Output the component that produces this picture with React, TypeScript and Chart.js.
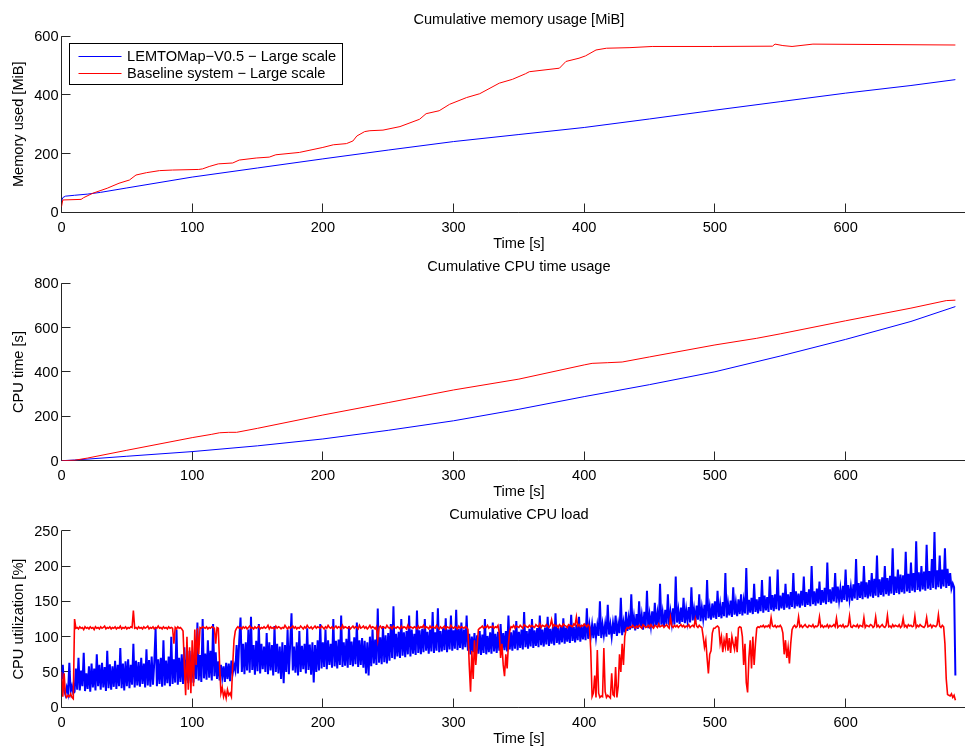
import React, { useEffect, useRef } from "react";
import { Chart, registerables } from "chart.js";

Chart.register(...registerables);

// ---------------- data ----------------
const LABEL_BLUE = "LEMTOMap\u2212V0.5 \u2212 Large scale";
const LABEL_RED = "Baseline system \u2212 Large scale";

const xTickValues = [0, 100, 200, 300, 400, 500, 600];
const X_MAX = 700;

// Cumulative memory usage [MiB]
const memBlueT = [0, 1, 3, 10, 20, 30, 50, 100, 150, 200, 250, 300, 350, 400, 450, 500, 550, 600, 650, 684];
const memBlueV = [38, 50, 55, 58, 62, 68, 83, 120, 151, 182, 212, 241, 265, 289, 318, 348, 377, 406, 432, 452];
const memRedT = [0, 1, 15, 17, 24, 35, 44, 52, 57, 65, 75, 85, 105, 108, 113, 120, 131, 136, 149, 159, 164, 182, 200, 208, 218, 223, 226, 232, 236, 246, 259, 274, 279, 289, 297, 310, 320, 335, 345, 355, 358, 381, 386, 396, 401, 409, 417, 435, 452, 498, 544, 546, 552, 559, 575, 684];
const memRedV = [19, 42, 44, 50, 65, 82, 99, 110, 127, 135, 142, 144, 146, 148, 156, 165, 168, 178, 185, 188, 196, 204, 221, 230, 234, 243, 260, 275, 278, 280, 292, 317, 336, 346, 368, 391, 404, 440, 453, 472, 479, 491, 514, 525, 533, 553, 559, 561, 565, 565, 566, 573, 568, 565, 573, 570];
const memYTicks = [0, 200, 400, 600];

// Cumulative CPU time usage [s]
const cpuBlueT = [0, 10, 50, 100, 150, 200, 250, 300, 350, 400, 450, 500, 550, 600, 650, 684];
const cpuBlueV = [0, 3, 20, 41, 67, 98, 137, 180, 232, 289, 343, 401, 472, 547, 628, 695];
const cpuRedT = [0, 10, 20, 50, 100, 115, 121, 128, 134, 150, 200, 250, 300, 350, 400, 406, 418, 429, 450, 500, 532, 550, 600, 650, 677, 684];
const cpuRedV = [0, 2, 12, 47, 104, 119, 126, 128, 128, 146, 206, 262, 319, 368, 432, 439, 442, 445, 468, 522, 552, 572, 631, 688, 722, 724];
const cpuYTicks = [0, 200, 400, 600, 800];

// Cumulative CPU load [%], one sample per second starting at t = 0 s
const LOAD_T0 = 0;
const LOAD_DT = 1;
const loadBlue = [
  40, 60, 25, 18, 28, 20, 63, 22, 30, 20,
  22, 55, 25, 70, 24, 52, 30, 77, 23, 48,
  26, 58, 22, 62, 28, 55, 24, 75, 30, 60,
  25, 63, 28, 57, 23, 80, 27, 61, 25, 58,
  29, 66, 26, 60, 30, 84, 27, 62, 24, 65,
  30, 68, 27, 60, 32, 90, 28, 66, 31, 64,
  29, 70, 33, 62, 28, 82, 31, 67, 29, 72,
  32, 64, 112, 30, 68, 33, 70, 29, 95, 31,
  66, 34, 72, 30, 100, 33, 68, 35, 110, 32,
  70, 36, 75, 33, 85, 38, 68, 34, 80, 37,
  72, 35, 78, 40, 120, 38, 74, 36, 125, 41,
  76, 39, 95, 42, 80, 38, 118, 44, 78, 40,
  65, 38, 60, 42, 58, 36, 63, 40, 62, 37,
  66, 48, 60, 52, 88, 48, 95, 127, 50, 90,
  47, 92, 52, 110, 49, 128, 53, 88, 46, 94,
  51, 118, 48, 90, 54, 86, 50, 105, 47, 92,
  52, 88, 45, 115, 50, 90, 48, 86, 40, 92,
  34, 88, 50, 110, 47, 90, 133, 52, 86, 49,
  92, 45, 108, 50, 87, 54, 90, 48, 112, 53,
  89, 46, 92, 35, 88, 50, 95, 52, 118, 55,
  92, 57, 110, 54, 95, 60, 90, 56, 125, 58,
  94, 55, 96, 60, 130, 57, 92, 59, 97, 56,
  115, 60, 93, 58, 99, 61, 120, 57, 95, 60,
  98, 56, 94, 48, 92, 45, 100, 58, 110, 62,
  96, 60, 140, 63, 99, 61, 115, 64, 102, 62,
  105, 66, 118, 70, 143, 68, 104, 72, 107, 70,
  125, 73, 106, 71, 108, 75, 130, 72, 110, 76,
  104, 74, 137, 77, 109, 75, 111, 78, 125, 80,
  107, 76, 110, 79, 135, 77, 106, 80, 140, 78,
  108, 79, 112, 81, 126, 78, 110, 82, 130, 80,
  109, 83, 138, 81, 111, 84, 120, 82, 110, 85,
  130, 80, 104, 75, 100, 78, 105, 73, 102, 76,
  108, 74, 103, 77, 125, 75, 101, 78, 106, 76,
  120, 79, 104, 77, 107, 80, 118, 78, 105, 81,
  108, 79, 130, 82, 106, 80, 109, 83, 122, 81,
  107, 84, 110, 82, 135, 85, 108, 83, 111, 86,
  125, 84, 109, 87, 112, 85, 130, 88, 110, 86,
  113, 89, 128, 87, 111, 90, 114, 88, 133, 91,
  112, 89, 115, 92, 126, 90, 113, 93, 116, 91,
  131, 94, 114, 92, 117, 95, 128, 93, 115, 96,
  118, 95, 140, 97, 116, 100, 117, 98, 119, 99,
  116, 101, 150, 98, 117, 102, 118, 100, 145, 103,
  117, 100, 119, 104, 130, 101, 118, 105, 155, 102,
  120, 106, 135, 108, 126, 110, 160, 112, 128, 109,
  132, 111, 150, 113, 130, 110, 135, 114, 165, 112,
  131, 115, 136, 113, 148, 116, 133, 114, 175, 117,
  134, 115, 138, 118, 160, 116, 135, 119, 140, 117,
  185, 120, 137, 118, 141, 121, 155, 119, 138, 122,
  142, 120, 170, 123, 139, 121, 144, 124, 160, 122,
  141, 125, 145, 123, 180, 126, 142, 124, 147, 127,
  150, 125, 165, 128, 145, 126, 149, 129, 190, 127,
  147, 130, 151, 128, 170, 131, 148, 129, 153, 132,
  160, 130, 150, 133, 197, 131, 152, 134, 155, 132,
  175, 135, 153, 133, 156, 136, 180, 134, 158, 137,
  156, 135, 185, 138, 159, 136, 160, 139, 195, 137,
  158, 140, 162, 138, 175, 141, 160, 139, 163, 142,
  190, 140, 164, 143, 161, 141, 165, 144, 185, 142,
  163, 145, 167, 143, 200, 146, 164, 144, 168, 147,
  178, 145, 166, 148, 169, 146, 205, 149, 167, 147,
  170, 150, 190, 148, 171, 151, 168, 149, 172, 152,
  195, 150, 173, 153, 170, 151, 174, 154, 210, 152,
  176, 155, 178, 153, 200, 156, 177, 154, 180, 157,
  190, 155, 182, 158, 215, 156, 181, 159, 184, 157,
  200, 160, 183, 158, 186, 161, 225, 159, 185, 162,
  195, 160, 188, 163, 187, 161, 220, 164, 189, 162,
  205, 165, 190, 163, 235, 166, 191, 164, 200, 167,
  192, 165, 230, 168, 193, 166, 210, 169, 248, 167,
  194, 170, 215, 168, 195, 171, 225, 169, 196, 172,
  190, 168, 175, 170, 45,
];
const loadRed = [
  50, 15, 48, 18, 14, 17, 15, 19, 14, 12,
  125, 112, 113, 111, 114, 112, 113, 110, 114, 112,
  113, 111, 114, 112, 113, 110, 114, 112, 113, 111,
  114, 112, 113, 115, 111, 113, 112, 114, 111, 113,
  112, 114, 111, 113, 112, 115, 111, 113, 112, 114,
  111, 113, 112, 114, 113, 137, 112, 113, 111, 114,
  112, 113, 111, 114, 112, 113, 115, 111, 113, 112,
  114, 111, 113, 112, 115, 112, 113, 111, 114, 112,
  113, 111, 114, 112, 113, 112, 90, 113, 111, 114,
  112, 113, 111, 108, 60, 17, 100, 25, 85, 20,
  95, 30, 110, 60, 112, 75, 113, 112, 114, 113,
  112, 114, 111, 113, 112, 114, 113, 112, 90, 113,
  112, 60, 20, 28, 15, 22, 13, 25, 17, 20,
  15, 60, 95, 108, 112, 114, 112, 113, 111, 114,
  112, 114, 111, 113, 115, 112, 113, 111, 114, 112,
  113, 115, 111, 113, 112, 114, 112, 113, 116, 111,
  114, 112, 113, 111, 115, 112, 114, 113, 111, 113,
  112, 116, 113, 111, 114, 112, 113, 115, 112, 114,
  111, 113, 112, 115, 113, 111, 114, 112, 116, 113,
  112, 114, 111, 113, 115, 112, 114, 113, 112, 115,
  113, 111, 114, 112, 116, 113, 112, 114, 111, 113,
  115, 112, 114, 113, 111, 116, 112, 114, 113, 112,
  114, 111, 113, 115, 112, 114, 113, 111, 116, 112,
  113, 115, 112, 114, 111, 113, 116, 112, 114, 113,
  111, 114, 96, 113, 115, 112, 114, 113, 112, 116,
  113, 112, 114, 111, 115, 113, 112, 114, 113, 111,
  115, 112, 114, 113, 111, 116, 112, 114, 113, 112,
  114, 113, 111, 115, 112, 114, 113, 116, 112, 114,
  113, 111, 115, 112, 114, 113, 112, 116, 113, 111,
  114, 112, 113, 115, 111, 114, 113, 112, 116, 113,
  112, 114, 113, 111, 115, 112, 114, 113, 112, 114,
  113, 110, 60, 22, 80, 40, 95, 60, 85, 110,
  112, 113, 115, 112, 114, 113, 116, 112, 114, 113,
  115, 112, 114, 113, 116, 105, 70, 90, 60, 44,
  75, 55, 90, 108, 114, 113, 116, 112, 115, 114,
  113, 116, 114, 112, 117, 115, 114, 113, 116, 114,
  116, 114, 113, 117, 115, 114, 118, 113, 116, 115,
  114, 117, 115, 113, 116, 124, 114, 117, 115, 116,
  113, 117, 115, 114, 118, 116, 115, 113, 117, 116,
  115, 114, 118, 116, 128, 115, 117, 114, 116, 115,
  118, 116, 114, 117, 115, 80, 15, 20, 45, 14,
  81, 20, 14, 16, 15, 84, 22, 14, 17, 15,
  13, 48, 18, 16, 57, 14, 30, 75, 50, 90,
  60, 100, 110, 113, 112, 114, 113, 116, 114, 112,
  115, 113, 116, 114, 112, 117, 115, 113, 114, 116,
  113, 117, 114, 112, 116, 115, 113, 118, 114, 115,
  116, 113, 115, 117, 114, 112, 127, 115, 113, 116,
  114, 116, 113, 115, 117, 114, 116, 113, 115, 114,
  117, 113, 115, 116, 114, 125, 115, 113, 116, 114,
  113, 100, 85, 95, 70, 48, 75, 80, 105, 112,
  112, 114, 115, 113, 90, 100, 78, 95, 85, 105,
  80, 98, 77, 100, 90, 82, 100, 78, 112, 114,
  113, 100, 60, 90, 35, 21, 70, 95, 55, 100,
  60, 90, 112, 114, 113, 115, 114, 116, 113, 115,
  114, 116, 113, 127, 115, 114, 116, 113, 115, 114,
  116, 113, 105, 75, 95, 70, 85, 62, 90, 110,
  114, 116, 113, 115, 128, 114, 116, 113, 115, 117,
  114, 113, 116, 115, 114, 117, 113, 115, 114, 116,
  128, 114, 116, 113, 115, 114, 117, 113, 116, 114,
  115, 117, 114, 126, 113, 115, 116, 114, 117, 113,
  115, 114, 116, 129, 114, 113, 116, 115, 114, 117,
  113, 116, 115, 114, 127, 113, 116, 115, 114, 117,
  116, 113, 115, 128, 114, 116, 113, 115, 117, 114,
  113, 116, 130, 114, 115, 113, 117, 114, 116, 115,
  114, 117, 113, 115, 126, 114, 116, 113, 117, 115,
  116, 114, 115, 129, 113, 116, 114, 117, 115, 114,
  113, 116, 127, 114, 115, 117, 113, 116, 115, 114,
  117, 131, 115, 113, 116, 114, 90, 40, 18, 17,
  16, 19, 14, 17, 10,
];
const loadYTicks = [0, 50, 100, 150, 200, 250];

// ---------------- styling ----------------
const BLUE = "#0000ff";
const RED = "#ff0000";
const TEXT = "#000000";
const AXIS = "#262626";
const FONT_FAMILY = '"Liberation Sans", Arial, Helvetica, sans-serif';
const FONT_SIZE = 14.6;
const LH = FONT_SIZE * 1.2;
const CANVAS_W = 980;
const CANVAS_H = 255;
const Y_AXIS_W = 61.5;
const RIGHT_PAD = 3.7;
const TITLE_GAP = 16;
const XTICK_GAP = 15.2;
const XLABEL_GAP = 31.5;
const YLABEL_X = 18.5;
const TICK_LEN = 9;

const font = { family: FONT_FAMILY, size: FONT_SIZE, weight: "normal" as const };

const toXY = (ts: number[], vs: number[]) => vs.map((v, i) => ({ x: ts[i], y: v }));
const sampled = (vs: number[]) => vs.map((v, i) => ({ x: LOAD_T0 + i * LOAD_DT, y: v }));

const matlabAxes = {
  id: "matlabAxes",
  beforeDatasetsDraw(chart: any) {
    const { ctx, chartArea, scales } = chart;
    const L = Math.floor(chartArea.left) + 0.5;
    const B = Math.floor(chartArea.bottom) + 0.5;
    ctx.save();
    ctx.strokeStyle = AXIS;
    ctx.lineWidth = 1;
    ctx.beginPath();
    ctx.moveTo(L, chartArea.top);
    ctx.lineTo(L, B);
    ctx.lineTo(chartArea.right, B);
    for (const t of scales.x.ticks) {
      const px = Math.floor(scales.x.getPixelForValue(t.value)) + 0.5;
      ctx.moveTo(px, B);
      ctx.lineTo(px, B - TICK_LEN);
    }
    for (const t of scales.y.ticks) {
      const py = Math.floor(scales.y.getPixelForValue(t.value)) + 0.5;
      ctx.moveTo(L, py);
      ctx.lineTo(L + TICK_LEN, py);
    }
    ctx.stroke();
    ctx.restore();
  },
};

const insetLegend = {
  id: "insetLegend",
  afterDatasetsDraw(chart: any, _args: any, opts: any) {
    if (!opts || !opts.show) return;
    const { ctx, chartArea } = chart;
    const x0 = Math.floor(chartArea.left + opts.offsetX) + 0.5;
    const y0 = Math.floor(chartArea.top + opts.offsetY) + 0.5;
    ctx.save();
    ctx.fillStyle = "#ffffff";
    ctx.fillRect(x0, y0, opts.width, opts.height);
    ctx.strokeStyle = "#000000";
    ctx.lineWidth = 1;
    ctx.strokeRect(x0, y0, opts.width, opts.height);
    ctx.font = `${FONT_SIZE}px ${FONT_FAMILY}`;
    ctx.textBaseline = "middle";
    ctx.textAlign = "left";
    chart.data.datasets.forEach((ds: any, i: number) => {
      const ry = Math.round(y0 + opts.firstRow + i * opts.rowGap) + 0.5;
      ctx.strokeStyle = ds.borderColor;
      ctx.lineWidth = 1;
      ctx.beginPath();
      ctx.moveTo(x0 + opts.lineStart, ry);
      ctx.lineTo(x0 + opts.lineEnd, ry);
      ctx.stroke();
      ctx.fillStyle = TEXT;
      ctx.fillText(ds.label, x0 + opts.textStart, ry);
    });
    ctx.restore();
  },
};

type Panel = {
  top: number;
  plotTop: number;
  plotBottom: number;
  title: string;
  yLabel: string;
  yMax: number;
  yTicks: number[];
  blue: { x: number; y: number }[];
  red: { x: number; y: number }[];
  blueWidth: number;
  redWidth: number;
  legend: boolean;
};

const panels: Panel[] = [
  {
    top: 0, plotTop: 36.2, plotBottom: 212.3,
    title: "Cumulative memory usage [MiB]", yLabel: "Memory used [MiB]",
    yMax: 600, yTicks: memYTicks,
    blue: toXY(memBlueT, memBlueV), red: toXY(memRedT, memRedV),
    blueWidth: 1, redWidth: 1, legend: true,
  },
  {
    top: 247, plotTop: 36.3, plotBottom: 213.7,
    title: "Cumulative CPU time usage", yLabel: "CPU time [s]",
    yMax: 800, yTicks: cpuYTicks,
    blue: toXY(cpuBlueT, cpuBlueV), red: toXY(cpuRedT, cpuRedV),
    blueWidth: 1, redWidth: 1, legend: false,
  },
  {
    top: 494, plotTop: 36.7, plotBottom: 213.3,
    title: "Cumulative CPU load", yLabel: "CPU utilization [%]",
    yMax: 250, yTicks: loadYTicks,
    blue: sampled(loadBlue), red: sampled(loadRed),
    blueWidth: 2, redWidth: 1.6, legend: false,
  },
];

function makeConfig(p: Panel): any {
  return {
    type: "line",
    data: {
      datasets: [
        { label: LABEL_BLUE, data: p.blue, borderColor: BLUE, borderWidth: p.blueWidth, pointRadius: 0, tension: 0, fill: false, order: 1, borderJoinStyle: "miter" },
        { label: LABEL_RED, data: p.red, borderColor: RED, borderWidth: p.redWidth, pointRadius: 0, tension: 0, fill: false, order: 0 },
      ],
    },
    options: {
      responsive: false,
      animation: false,
      devicePixelRatio: 1,
      events: [],
      layout: { padding: { left: 0, right: RIGHT_PAD, top: 0, bottom: 0 } },
      plugins: {
        legend: { display: false },
        tooltip: { enabled: false },
        title: {
          display: true,
          fullSize: false,
          text: p.title,
          color: TEXT,
          font,
          padding: { top: p.plotTop - TITLE_GAP - LH / 2, bottom: TITLE_GAP - LH / 2 },
        },
        insetLegend: {
          show: p.legend,
          offsetX: 7.5, offsetY: 6.8, width: 273, height: 41,
          firstRow: 12, rowGap: 17.8, lineStart: 9, lineEnd: 52, textStart: 57.6,
        },
      },
      scales: {
        x: {
          type: "linear",
          min: 0,
          max: X_MAX,
          afterBuildTicks: (s: any) => { s.ticks = xTickValues.map((v) => ({ value: v })); },
          afterFit: (s: any) => { s.height = CANVAS_H - p.plotBottom; },
          grid: { display: false, drawTicks: false },
          border: { display: false },
          ticks: { color: TEXT, font, padding: XTICK_GAP - LH / 2, maxRotation: 0, autoSkip: false },
          title: {
            display: true, text: "Time [s]", color: TEXT, font,
            padding: { top: 0, bottom: CANVAS_H - LH / 2 - (p.plotBottom + XLABEL_GAP) },
          },
        },
        y: {
          type: "linear",
          min: 0,
          max: p.yMax,
          afterBuildTicks: (s: any) => { s.ticks = p.yTicks.map((v) => ({ value: v })); },
          afterFit: (s: any) => { s.width = Y_AXIS_W; },
          grid: { display: false, drawTicks: false },
          border: { display: false },
          ticks: { color: TEXT, font, padding: 3, labelOffset: 1 },
          title: {
            display: true, text: p.yLabel, color: TEXT, font,
            padding: { top: YLABEL_X - LH / 2, bottom: 0 },
          },
        },
      },
    },
    plugins: [matlabAxes, insetLegend],
  };
}

function PanelChart({ p }: { p: Panel }) {
  const ref = useRef<HTMLCanvasElement | null>(null);
  useEffect(() => {
    if (!ref.current) return;
    const chart = new Chart(ref.current, makeConfig(p));
    return () => chart.destroy();
  }, [p]);
  return (
    <canvas
      ref={ref}
      width={CANVAS_W}
      height={CANVAS_H}
      style={{ position: "absolute", left: 0, top: p.top, width: CANVAS_W, height: CANVAS_H }}
    />
  );
}

export default function App() {
  return (
    <div
      style={{
        position: "absolute", left: 0, top: 0, width: 965, height: 749,
        overflow: "hidden", background: "#ffffff",
      }}
    >
      {panels.map((p, i) => (
        <PanelChart key={i} p={p} />
      ))}
    </div>
  );
}
